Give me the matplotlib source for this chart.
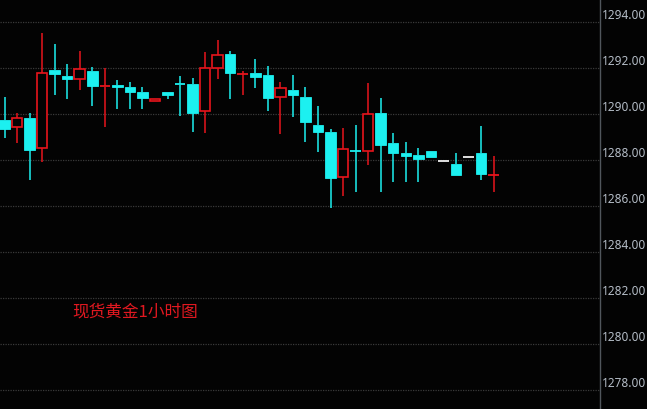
import matplotlib
matplotlib.use("Agg")
import matplotlib.pyplot as plt
from matplotlib.patches import Rectangle

# hourly spot gold candles
opens = [1289.74, 1289.43, 1289.83, 1288.51, 1291.91, 1291.65, 1291.51, 1291.88, 1291.18, 1291.26,
         1291.17, 1290.97, 1290.55, 1290.96, 1291.30, 1291.30, 1290.14, 1291.99, 1292.62, 1291.73,
         1291.80, 1291.70, 1290.75, 1291.04, 1290.74, 1289.51, 1289.22, 1287.25, 1288.41, 1288.39,
         1290.06, 1288.74, 1288.30, 1288.22, 1288.39, 1287.97, 1287.83, 1288.12, 1288.30, 1287.34]
closes = [1289.35, 1289.83, 1288.43, 1291.77, 1291.74, 1291.52, 1291.96, 1291.23, 1291.22, 1291.19,
          1290.97, 1290.71, 1290.65, 1290.84, 1291.28, 1290.06, 1291.99, 1292.57, 1291.80, 1291.75,
          1291.62, 1290.71, 1291.12, 1290.84, 1289.67, 1289.23, 1287.20, 1288.48, 1288.39, 1290.00,
          1288.67, 1288.32, 1288.19, 1288.04, 1288.13, 1287.97, 1287.35, 1288.12, 1287.39, 1287.36]
highs = [1290.74, 1290.06, 1290.06, 1293.53, 1293.04, 1292.17, 1292.74, 1292.06, 1292.01, 1291.48,
         1291.40, 1291.16, 1290.65, 1290.96, 1291.67, 1291.55, 1292.71, 1293.22, 1292.74, 1291.87,
         1292.39, 1292.09, 1291.38, 1291.70, 1291.19, 1290.35, 1289.35, 1289.38, 1289.52, 1291.33,
         1290.71, 1289.17, 1288.80, 1288.51, 1288.39, 1287.97, 1288.29, 1288.12, 1289.49, 1288.17]
lows = [1288.96, 1288.74, 1287.13, 1287.93, 1290.83, 1290.65, 1291.04, 1290.36, 1289.42, 1290.20,
        1290.20, 1290.22, 1290.55, 1290.65, 1289.93, 1289.20, 1289.16, 1291.51, 1290.65, 1290.83,
        1291.12, 1290.14, 1289.13, 1289.86, 1288.77, 1288.36, 1285.90, 1286.43, 1286.62, 1287.80,
        1286.62, 1287.04, 1287.04, 1287.04, 1288.13, 1287.97, 1287.35, 1288.12, 1287.13, 1286.62]

price_ticks = [1278, 1280, 1282, 1284, 1286, 1288, 1290, 1292, 1294]
title_text = '现货黄金1小时图'

UP = '#e8141c'
DOWN = '#1cf0f0'
FLAT = '#f0f0f0'
BG = '#030303'

fig = plt.figure(figsize=(6.47, 4.09), dpi=100, facecolor=BG)
ax = fig.add_axes([0, 0, 600 / 647, 1])
ax.set_facecolor(BG)

w = 0.84
for i, (o, c, h, l) in enumerate(zip(opens, closes, highs, lows)):
    if c > o:
        col = UP
    elif c < o:
        col = DOWN
    else:
        col = FLAT
    lo_b, hi_b = min(o, c), max(o, c)
    # wicks
    if h > hi_b:
        ax.plot([i, i], [hi_b, h], color=col, lw=1.1, solid_capstyle='butt', zorder=2)
    if l < lo_b:
        ax.plot([i, i], [l, lo_b], color=col, lw=1.1, solid_capstyle='butt', zorder=2)
    if hi_b - lo_b < 0.06:
        ax.plot([i - w / 2, i + w / 2], [(o + c) / 2] * 2, color=col, lw=1.3,
                solid_capstyle='butt', zorder=3)
    elif c > o:
        ax.add_patch(Rectangle((i - w / 2, lo_b), w, hi_b - lo_b, facecolor=BG,
                               edgecolor=col, lw=1.2, zorder=3))
    else:
        ax.add_patch(Rectangle((i - w / 2, lo_b), w, hi_b - lo_b, facecolor=col,
                               edgecolor=col, lw=0.6, zorder=3))

ax.set_xlim(-0.36, 47.49)
ax.set_ylim(1294 - 387 / 23, 1294 + 22 / 23)

for p in price_ticks:
    ax.axhline(p, color='#3a3a3a', lw=0.9, ls=(0, (1, 1)), zorder=1)
    ax.text(1.0 + 2 / 600, p + 0.3, f'{p:.2f}', transform=ax.get_yaxis_transform(),
            ha='left', va='center', color='#b4bcc6', fontsize=8.5,
            family=['Noto Sans', 'DejaVu Sans'], clip_on=False)

ax.text(72 / 600, 1294 - (312.5 - 22) / 23, title_text, ha='left', va='center',
        transform=ax.get_yaxis_transform(), color='#e01820', fontsize=12,
        family=['Noto Sans CJK SC', 'DejaVu Sans'])

ax.set_xticks([])
ax.set_yticks([])
for side in ['top', 'bottom', 'left']:
    ax.spines[side].set_visible(False)
ax.spines['right'].set_color('#50565c')
ax.spines['right'].set_linewidth(1.0)

fig.savefig('out.png', dpi=100, facecolor=BG)
